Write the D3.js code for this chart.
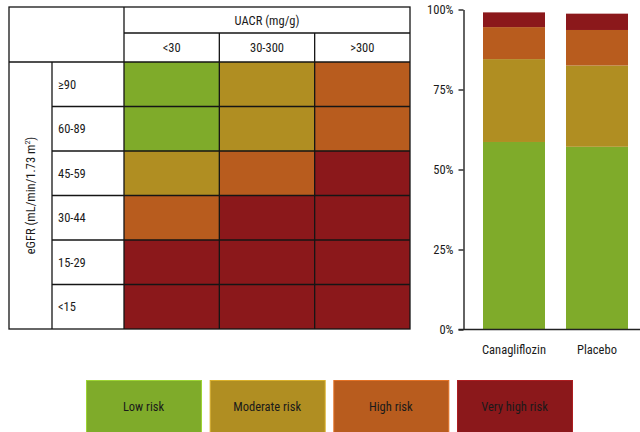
<!DOCTYPE html>
<html>
<head>
<meta charset="utf-8">
<script src="https://cdn.jsdelivr.net/npm/d3@7"></script>
<style>
  html, body { margin: 0; padding: 0; background: #fff; }
  svg { display: block; }
  text { font-family: "Liberation Sans Narrow", "Roboto Condensed", "DejaVu Sans Condensed", sans-serif; fill: #1a1a1a; }
</style>
</head>
<body>
<svg id="chart" width="640" height="432"></svg>
<script>
// KDIGO-style risk grid: eGFR categories (rows) x UACR categories (columns)
const uacrCategories = ["<30", "30-300", ">300"];
const egfrCategories = ["\u226590", "60-89", "45-59", "30-44", "15-29", "<15"];
// risk level index per cell (0 = low ... 3 = very high)
const riskGrid = [
  [0, 1, 2],
  [0, 1, 2],
  [1, 2, 3],
  [2, 3, 3],
  [3, 3, 3],
  [3, 3, 3]
];
const riskLevels = ["Low risk", "Moderate risk", "High risk", "Very high risk"];
const riskColors = ["#7fab2a", "#b08e22", "#b85c1e", "#8b181b"];

// Share of participants per risk level in each arm (%)
const arms = ["Canagliflozin", "Placebo"];
const lowShare = [58.6, 57.1];
const moderateShare = [25.9, 25.4];
const highShare = [10.0, 11.1];
const veryHighShare = [4.6, 5.1];
const yTicks = [0, 25, 50, 75, 100];

const svg = d3.select("#chart");

// ---------- Risk grid ----------
const gridLeft = 9, labelColRight = 52, rowLabelRight = 124, gridRight = 410;
const headTop = 7, headMid = 33, headBottom = 62, gridBottom = 329;

const colX = d3.scaleBand().domain(uacrCategories).range([rowLabelRight, gridRight]);
const rowY = d3.scaleBand().domain(egfrCategories).range([headBottom, gridBottom]);

const grid = svg.append("g");

// coloured cells
egfrCategories.forEach((row, i) => {
  uacrCategories.forEach((col, j) => {
    grid.append("rect")
      .attr("x", colX(col))
      .attr("y", rowY(row))
      .attr("width", colX.bandwidth())
      .attr("height", rowY.bandwidth())
      .attr("fill", riskColors[riskGrid[i][j]]);
  });
});

const lineColor = "#151515";
const hLine = (x1, x2, y, w) => grid.append("line")
  .attr("x1", x1).attr("x2", x2).attr("y1", y).attr("y2", y)
  .attr("stroke", lineColor).attr("stroke-width", w || 1.3);
const vLine = (x, y1, y2, w) => grid.append("line")
  .attr("x1", x).attr("x2", x).attr("y1", y1).attr("y2", y2)
  .attr("stroke", lineColor).attr("stroke-width", w || 1.3);

// outer frame
grid.append("rect")
  .attr("x", gridLeft).attr("y", headTop)
  .attr("width", gridRight - gridLeft).attr("height", gridBottom - headTop)
  .attr("fill", "none").attr("stroke", lineColor).attr("stroke-width", 1.3);

// header lines
hLine(rowLabelRight, gridRight, headMid);
hLine(gridLeft, gridRight, headBottom);
vLine(rowLabelRight, headTop, gridBottom);
uacrCategories.slice(1).forEach(c => vLine(colX(c), headMid, gridBottom));
vLine(labelColRight, headBottom, gridBottom);
egfrCategories.slice(1).forEach(r => hLine(labelColRight, gridRight, rowY(r)));

// header texts
grid.append("text")
  .attr("x", (rowLabelRight + gridRight) / 2)
  .attr("y", (headTop + headMid) / 2 + 4.5)
  .attr("text-anchor", "middle")
  .attr("font-size", 12.5)
  .text("UACR (mg/g)");

uacrCategories.forEach(c => {
  grid.append("text")
    .attr("x", colX(c) + colX.bandwidth() / 2)
    .attr("y", (headMid + headBottom) / 2 + 4.5)
    .attr("text-anchor", "middle")
    .attr("font-size", 12.5)
    .text(c);
});

egfrCategories.forEach(r => {
  grid.append("text")
    .attr("x", labelColRight + 6)
    .attr("y", rowY(r) + rowY.bandwidth() / 2 + 4.5)
    .attr("font-size", 12.5)
    .text(r);
});

// rotated eGFR axis title
const egfrTitle = grid.append("text")
  .attr("transform", `translate(${(gridLeft + labelColRight) / 2 + 4.5},${(headBottom + gridBottom) / 2}) rotate(-90)`)
  .attr("text-anchor", "middle")
  .attr("font-size", 12.5);
egfrTitle.append("tspan").text("eGFR (mL/min/1.73 m");
egfrTitle.append("tspan").attr("font-size", 8).attr("dy", -5).text("2");
egfrTitle.append("tspan").attr("dy", 5).text(")");

// ---------- Stacked bars ----------
const y = d3.scaleLinear().domain([0, 100]).range([329.5, 9.5]);
const x = d3.scaleBand().domain(arms)
  .range([462.25, 648.75]).paddingInner(0.253).paddingOuter(0.25);

const shares = [lowShare, moderateShare, highShare, veryHighShare];
const barRows = arms.map((arm, i) => {
  const o = { arm };
  riskLevels.forEach((lvl, k) => { o[lvl] = shares[k][i]; });
  return o;
});
const stacked = d3.stack().keys(riskLevels)(barRows);

const bars = svg.append("g");
stacked.forEach((layer, k) => {
  bars.selectAll(null)
    .data(layer)
    .join("rect")
    .attr("x", d => x(d.data.arm))
    .attr("y", d => y(d[1]))
    .attr("width", x.bandwidth())
    .attr("height", d => y(d[0]) - y(d[1]))
    .attr("fill", riskColors[k]);
});

const yAxis = svg.append("g")
  .attr("transform", "translate(463.5,0)")
  .call(d3.axisLeft(y).tickValues(yTicks).tickFormat(d => d + "%").tickSize(5).tickSizeOuter(0));
yAxis.select(".domain").attr("stroke", "#222").attr("stroke-width", 1.4);
yAxis.selectAll(".tick line").attr("stroke", "#222").attr("stroke-width", 1.4);
yAxis.selectAll(".tick text")
  .attr("x", -10)
  .attr("font-size", 12.5)
  .attr("font-family", null)
  .attr("fill", "#1a1a1a");

// baseline
svg.append("line")
  .attr("x1", 458.5).attr("x2", 640)
  .attr("y1", y(0)).attr("y2", y(0))
  .attr("stroke", "#222").attr("stroke-width", 1.4);

arms.forEach(arm => {
  svg.append("text")
    .attr("x", x(arm) + x.bandwidth() / 2)
    .attr("y", 354)
    .attr("text-anchor", "middle")
    .attr("font-size", 12.5)
    .text(arm);
});

// ---------- Legend ----------
const legendX = d3.scaleBand().domain(riskLevels).range([86, 572]).paddingInner(0.07);
const legend = svg.append("g");
riskLevels.forEach((lvl, k) => {
  legend.append("rect")
    .attr("x", legendX(lvl) + 0.5)
    .attr("y", 380.5)
    .attr("width", legendX.bandwidth())
    .attr("height", 52)
    .attr("fill", riskColors[k])
    .attr("stroke", d3.color(riskColors[k]).brighter(0.6))
    .attr("stroke-width", 1);
  legend.append("text")
    .attr("x", legendX(lvl) + legendX.bandwidth() / 2)
    .attr("y", 410.5)
    .attr("text-anchor", "middle")
    .attr("font-size", 12.5)
    .attr("fill", "#151515")
    .text(lvl);
});
</script>
</body>
</html>
